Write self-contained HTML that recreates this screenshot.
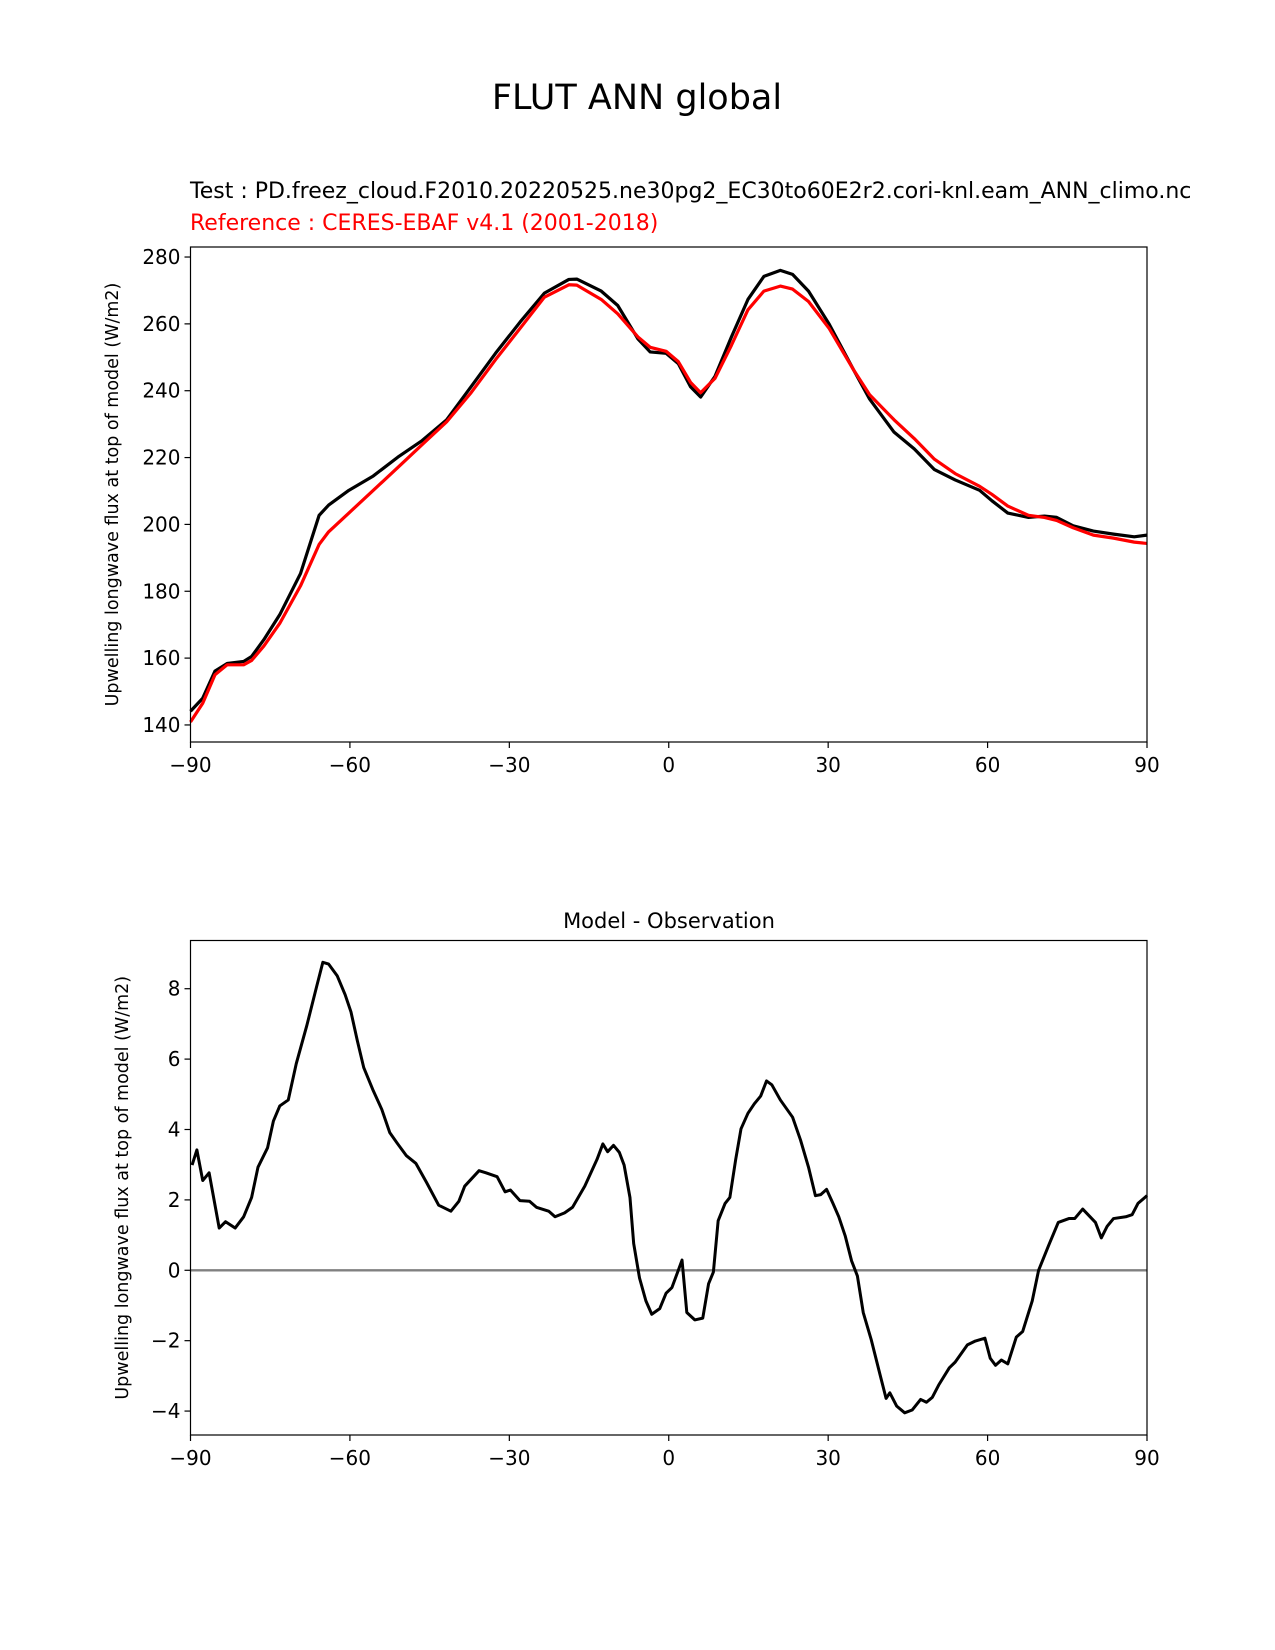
<!DOCTYPE html>
<html><head><meta charset="utf-8"><style>
html,body{margin:0;padding:0;background:#fff}
svg{display:block;font-family:"DejaVu Sans","Liberation Sans",sans-serif}
</style></head><body>
<svg id="fig" width="1275" height="1650" viewBox="0 0 1275 1650">
<text x="637" y="109" font-size="35" text-anchor="middle">FLUT ANN global</text>
<text x="190" y="198" font-size="22">Test : PD.freez_cloud.F2010.20220525.ne30pg2_EC30to60E2r2.cori-knl.eam_ANN_climo.nc</text>
<text x="190" y="230" font-size="22" fill="#ff0000">Reference : CERES-EBAF v4.1 (2001-2018)</text>
<text x="669" y="928" font-size="21" text-anchor="middle">Model - Observation</text>
<g id="topchart"></g>
<g id="botchart"></g>
</svg>
<script>
const latT = [-90,-87.7,-85.4,-83.1,-80,-78.5,-76.2,-73.2,-69.3,-65.8,-64,-60.2,-55.6,-51,-46.4,-41.8,-37.2,-32.6,-28,-23.4,-18.8,-17.3,-12.7,-9.6,-5.8,-3.5,-0.5,1.8,4.1,6,8.7,11.8,14.9,17.9,21,23.3,26.3,30.2,34.8,37.8,42.4,46.2,50,53.9,58.5,60.8,63.8,67.7,70.7,73,76.1,79.9,83.7,87.6,90];
const testVals = [144.1,148,156.1,158.4,159,160.5,165.5,173,185.3,202.7,205.8,210.2,214.5,220.1,225.1,231.3,241.2,251.2,260.5,269.2,273.3,273.4,269.8,265.5,255.5,251.6,251.2,248.1,241.2,238.1,244.3,256.1,267.3,274.2,276,274.8,269.8,259.9,246.2,237.5,227.6,222.6,216.4,213.3,210.2,207.1,203.4,202.1,202.5,202.1,199.6,198,197.1,196.3,196.8];
const refVals = [140.9,146.5,155,158,158,159.3,163.6,170.4,181.6,194,197.8,203.4,210.2,217,223.9,230.7,239.4,249.3,258.6,268,271.7,271.6,267.3,263,256.1,253,251.8,248.7,242.5,239.4,243.7,253.6,264.2,269.8,271.3,270.4,266.7,258.6,246.2,238.8,231.3,225.7,219.5,215.2,211.4,209,205.5,202.7,202.1,201.2,199,196.8,195.9,194.7,194.3];
const latD = [-89.7,-88.8,-87.7,-86.5,-84.6,-83.4,-81.6,-80,-78.5,-77.3,-75.5,-74.4,-73.2,-71.6,-70.1,-68.1,-66.3,-65.1,-64,-62.4,-60.9,-59.8,-58.6,-57.4,-55.6,-54,-52.5,-51,-49.4,-47.6,-45.6,-43.3,-41,-39.5,-38.4,-35.7,-34.4,-32.3,-30.8,-29.8,-28,-26.2,-24.9,-22.6,-21.4,-19.6,-18.1,-15.8,-13.5,-12.4,-11.5,-10.4,-9.3,-8.4,-7.3,-6.6,-5.5,-4.3,-3.2,-1.7,-0.5,0.6,1.8,2.5,3.4,4.9,6.4,7.5,8.4,9.3,10.6,11.5,12.6,13.6,14.9,16.1,17.3,18.4,19.4,21,23.3,24.8,26.3,27.6,28.6,29.7,30.9,32,33.2,34.4,35.5,36.6,38.1,39.7,40.9,41.6,42.9,44.4,45.8,47.4,48.5,49.6,50.8,52.8,53.9,56.2,57.7,59.5,60.5,61.5,62.6,63.8,65.4,66.6,68.4,69.6,71.5,73.3,75.3,76.4,77.9,80.3,81.4,82.5,83.7,86,87.2,88.3,90];
const diffVals = [2.99,3.42,2.55,2.77,1.2,1.38,1.2,1.52,2.07,2.93,3.48,4.24,4.67,4.84,5.87,6.96,8.04,8.75,8.7,8.37,7.83,7.34,6.52,5.76,5.1,4.57,3.91,3.59,3.26,3.04,2.5,1.85,1.68,1.96,2.39,2.83,2.77,2.66,2.23,2.28,1.98,1.96,1.79,1.68,1.52,1.63,1.79,2.39,3.15,3.59,3.37,3.55,3.35,2.99,2.07,0.76,-0.22,-0.87,-1.25,-1.09,-0.65,-0.49,0,0.29,-1.2,-1.41,-1.36,-0.38,-0.05,1.41,1.9,2.07,3.15,4.02,4.46,4.73,4.95,5.38,5.27,4.84,4.35,3.7,2.93,2.12,2.15,2.3,1.9,1.52,0.98,0.27,-0.16,-1.2,-1.97,-2.93,-3.64,-3.48,-3.86,-4.05,-3.97,-3.67,-3.75,-3.61,-3.26,-2.77,-2.61,-2.12,-2.01,-1.93,-2.5,-2.7,-2.55,-2.66,-1.9,-1.74,-0.87,0,0.71,1.36,1.47,1.47,1.74,1.36,0.92,1.25,1.47,1.52,1.58,1.9,2.12];
const xTicks = [-90,-60,-30,0,30,60,90];
const xTickLabels = ["\u221290","\u221260","\u221230","0","30","60","90"];
const yTicksTop = [140,160,180,200,220,240,260,280];
const yTicksBot = [-4,-2,0,2,4,6,8];
const yTickLabelsBot = ["\u22124","\u22122","0","2","4","6","8"];

const NS="http://www.w3.org/2000/svg";
function mk(parent,tag,attrs){const e=document.createElementNS(NS,tag);for(const k in attrs)e.setAttribute(k,attrs[k]);parent.appendChild(e);return e;}
function axes(g,box,ylim,yt,ytl,ylabelX,prefix){
  const xs=v=>box.l+(v+90)/180*(box.r-box.l);
  const ys=v=>box.b-(v-ylim[0])/(ylim[1]-ylim[0])*(box.b-box.t);
  xTicks.forEach((v,i)=>{
    const t=mk(g,'line',{x1:xs(v),x2:xs(v),y1:box.b,y2:box.b+6,stroke:'#000','stroke-width':1.2});
    
    
    const l=mk(g,'text',{x:xs(v),y:box.b+30,'font-size':20,'text-anchor':'middle'});
    l.textContent=xTickLabels[i];
    
    
  });
  yt.forEach((v,i)=>{
    const t=mk(g,'line',{x1:box.l-6,x2:box.l,y1:ys(v),y2:ys(v),stroke:'#000','stroke-width':1.2});
    
    
    const l=mk(g,'text',{x:box.l-10,y:ys(v)+7,'font-size':20,'text-anchor':'end'});
    l.textContent=ytl?ytl[i]:String(v);
    
    
  });
  const cy=(box.t+box.b)/2;
  const yl=mk(g,'text',{x:ylabelX,y:cy,'font-size':17.5,'text-anchor':'middle',transform:'rotate(-90 '+ylabelX+' '+cy+')','dominant-baseline':'middle'});
  yl.textContent='Upwelling longwave flux at top of model (W/m2)';
  
  
  return {xs,ys};
}
function drawLine(g,xs,ys,lat,vals,color,w,name){
  const d=lat.map((v,i)=>(i?'L':'M')+xs(v).toFixed(2)+','+ys(vals[i]).toFixed(2)).join('');
  const p=mk(g,'path',{d:d,fill:'none',stroke:color,'stroke-width':w,'stroke-linejoin':'round'});
  
  
}
const topG=document.getElementById('topchart');
const bt={l:190.5,r:1147,t:247,b:742};
const A=axes(topG,bt,[134.9,283],yTicksTop,null,113,'top');
drawLine(topG,A.xs,A.ys,latT,testVals,'#000',3.2,'test-line');
drawLine(topG,A.xs,A.ys,latT,refVals,'#ff0000',3.2,'reference-line');
const f1=mk(topG,'rect',{x:bt.l,y:bt.t,width:bt.r-bt.l,height:bt.b-bt.t,fill:'none',stroke:'#000','stroke-width':1.2});



const botG=document.getElementById('botchart');
const bb={l:190.5,r:1147,t:940.5,b:1435};
const B=axes(botG,bb,[-4.68,9.37],yTicksBot,yTickLabelsBot,123,'diff');
const z=mk(botG,'line',{x1:bb.l,x2:bb.r,y1:B.ys(0),y2:B.ys(0),stroke:'#808080','stroke-width':2.4});


drawLine(botG,B.xs,B.ys,latD,diffVals,'#000',3,'difference-line');
const f2=mk(botG,'rect',{x:bb.l,y:bb.t,width:bb.r-bb.l,height:bb.b-bb.t,fill:'none',stroke:'#000','stroke-width':1.2});


</script>
</body></html>
